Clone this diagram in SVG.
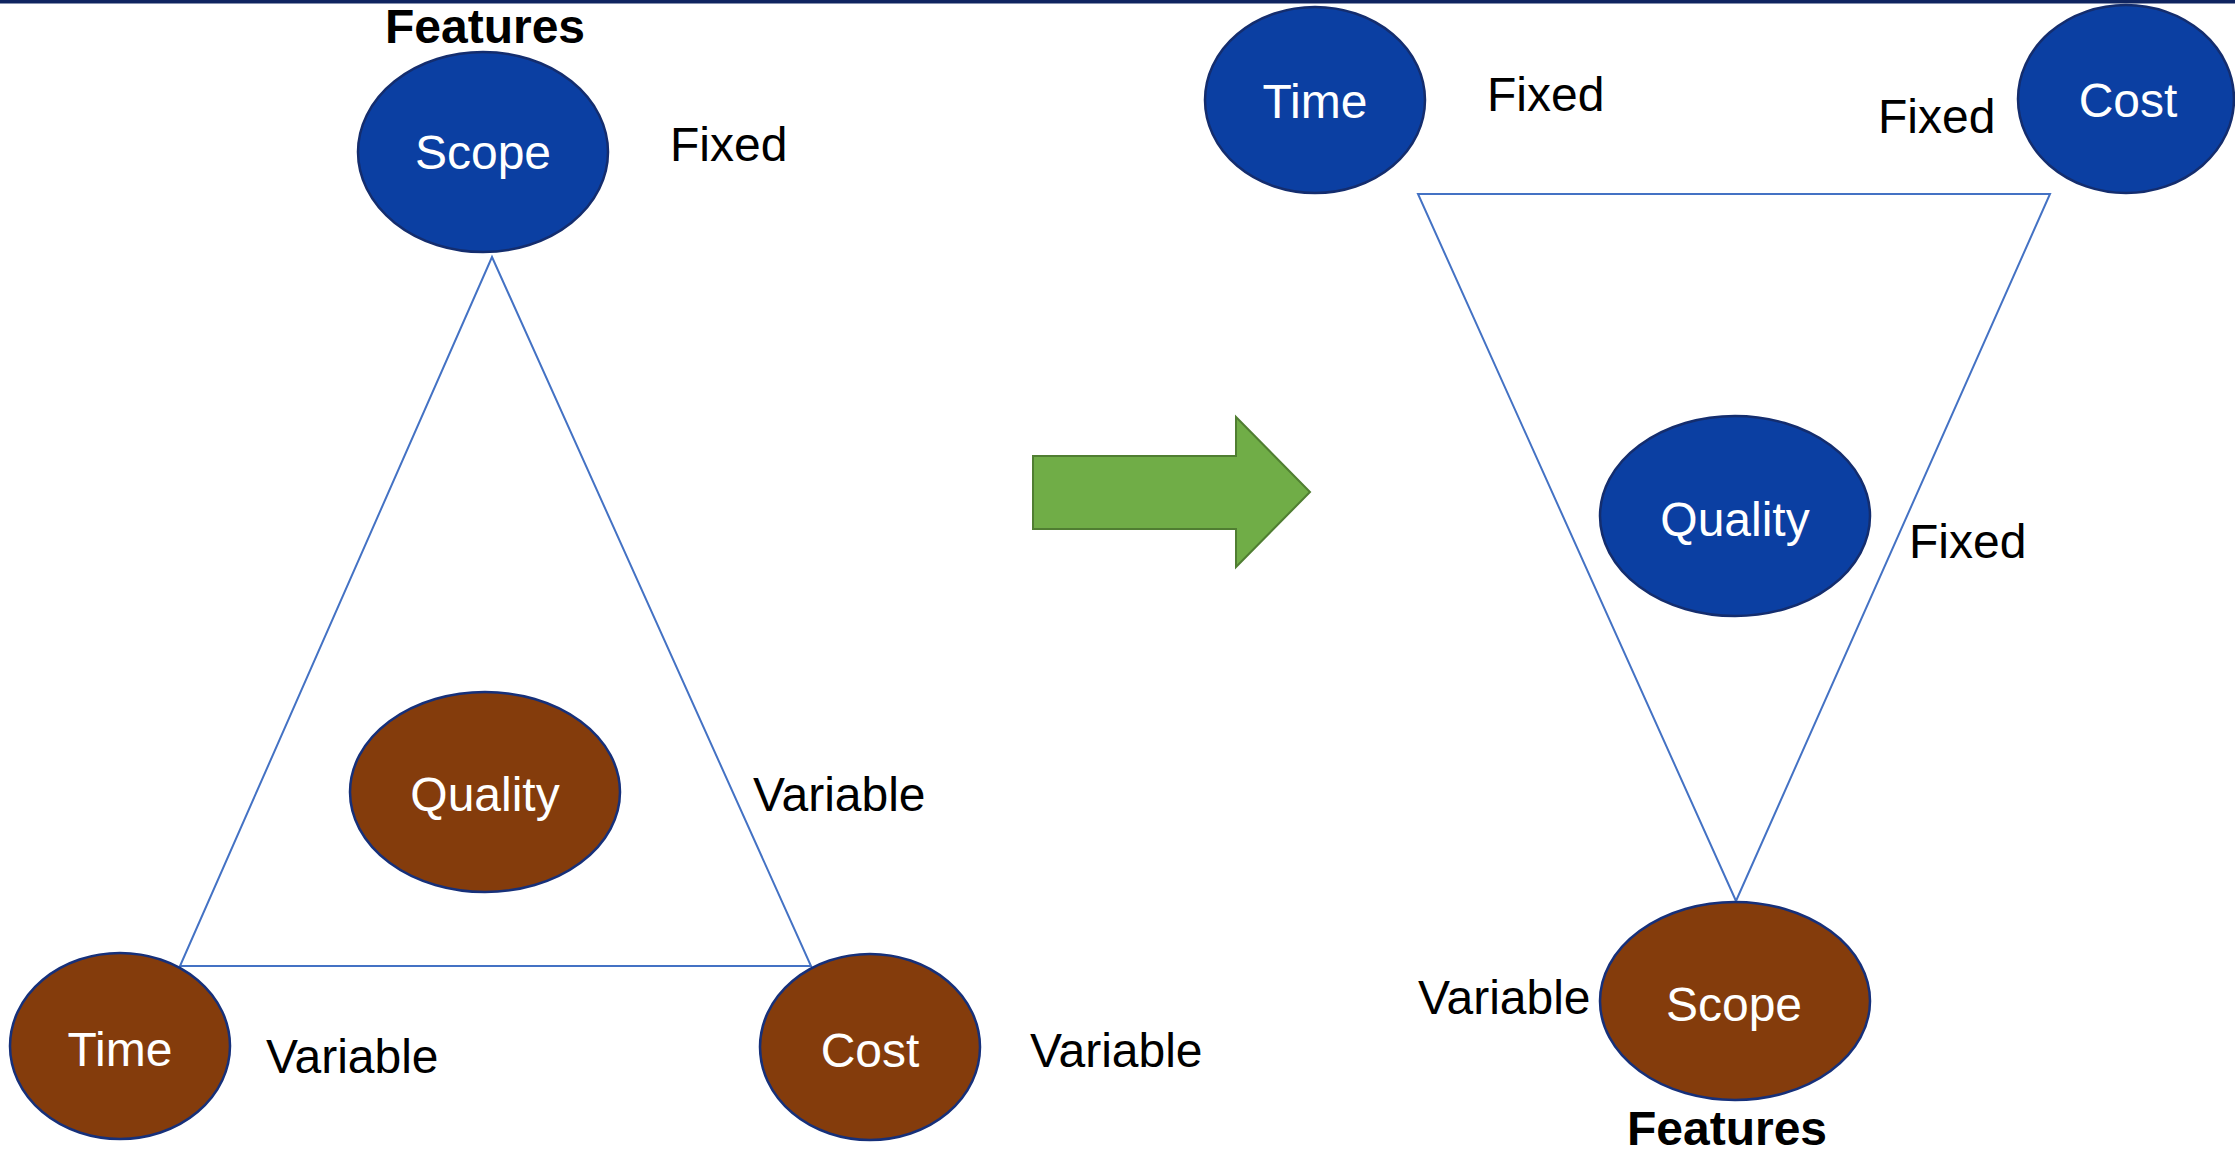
<svg xmlns="http://www.w3.org/2000/svg" width="2235" height="1151" viewBox="0 0 2235 1151">
  <style>
    .blue { fill: #0b3fa2; stroke: #142d6e; stroke-width: 2.5; }
    .brown { fill: #843c0c; stroke: #16307a; stroke-width: 2.5; }
    .tri { fill: none; stroke: #4472c4; stroke-width: 2; stroke-linejoin: miter; }
    .in { font-family: "Liberation Sans", Arial, sans-serif; font-size: 48px; fill: #ffffff; text-anchor: middle; }
    .lbl { font-family: "Liberation Sans", Arial, sans-serif; font-size: 48px; fill: #000000; }
    .hd { font-family: "Liberation Sans", Arial, sans-serif; font-size: 48px; font-weight: bold; fill: #000000; text-anchor: middle; }
  </style>
  <rect x="0" y="0" width="2235" height="1151" fill="#ffffff"/>
  <rect x="0" y="0" width="2235" height="3.5" fill="#0f2460"/>

  <!-- triangles linking the three constraints -->
  <g id="connectors">
    <polygon class="tri" points="492,257 811,966 180,966"/>
    <polygon class="tri" points="1418,194 2050,194 1736,901"/>
  </g>

  <!-- left: traditional triangle -->
  <g id="left-scope">
    <ellipse class="blue" cx="483" cy="152" rx="125" ry="100"/>
    <text class="in" x="483" y="169">Scope</text>
    <text class="hd" x="485" y="43">Features</text>
    <text class="lbl" x="670" y="161">Fixed</text>
  </g>
  <g id="left-quality">
    <ellipse class="brown" cx="485" cy="792" rx="135" ry="100"/>
    <text class="in" x="485" y="811">Quality</text>
    <text class="lbl" x="753" y="811">Variable</text>
  </g>
  <g id="left-time">
    <ellipse class="brown" cx="120" cy="1046" rx="110" ry="93"/>
    <text class="in" x="120" y="1066">Time</text>
    <text class="lbl" x="266" y="1073">Variable</text>
  </g>
  <g id="left-cost">
    <ellipse class="brown" cx="870" cy="1047" rx="110" ry="93"/>
    <text class="in" x="870" y="1067">Cost</text>
    <text class="lbl" x="1030" y="1067">Variable</text>
  </g>

  <!-- transition arrow -->
  <g id="arrow">
    <polygon points="1033,456 1236,456 1236,417 1310,492 1236,567 1236,529 1033,529" fill="#70ad47" stroke="#507e32" stroke-width="2"/>
  </g>

  <!-- right: inverted triangle -->
  <g id="right-time">
    <ellipse class="blue" cx="1315" cy="100" rx="110" ry="93"/>
    <text class="in" x="1315" y="118">Time</text>
    <text class="lbl" x="1487" y="111">Fixed</text>
  </g>
  <g id="right-cost">
    <ellipse class="blue" cx="2126" cy="99" rx="108" ry="94"/>
    <text class="in" x="2128" y="117">Cost</text>
    <text class="lbl" x="1878" y="133">Fixed</text>
  </g>
  <g id="right-quality">
    <ellipse class="blue" cx="1735" cy="516" rx="135" ry="100"/>
    <text class="in" x="1735" y="536">Quality</text>
    <text class="lbl" x="1909" y="558">Fixed</text>
  </g>
  <g id="right-scope">
    <ellipse class="brown" cx="1735" cy="1001" rx="135" ry="99"/>
    <text class="in" x="1734" y="1021">Scope</text>
    <text class="lbl" x="1418" y="1014">Variable</text>
    <text class="hd" x="1727" y="1145">Features</text>
  </g>
</svg>
